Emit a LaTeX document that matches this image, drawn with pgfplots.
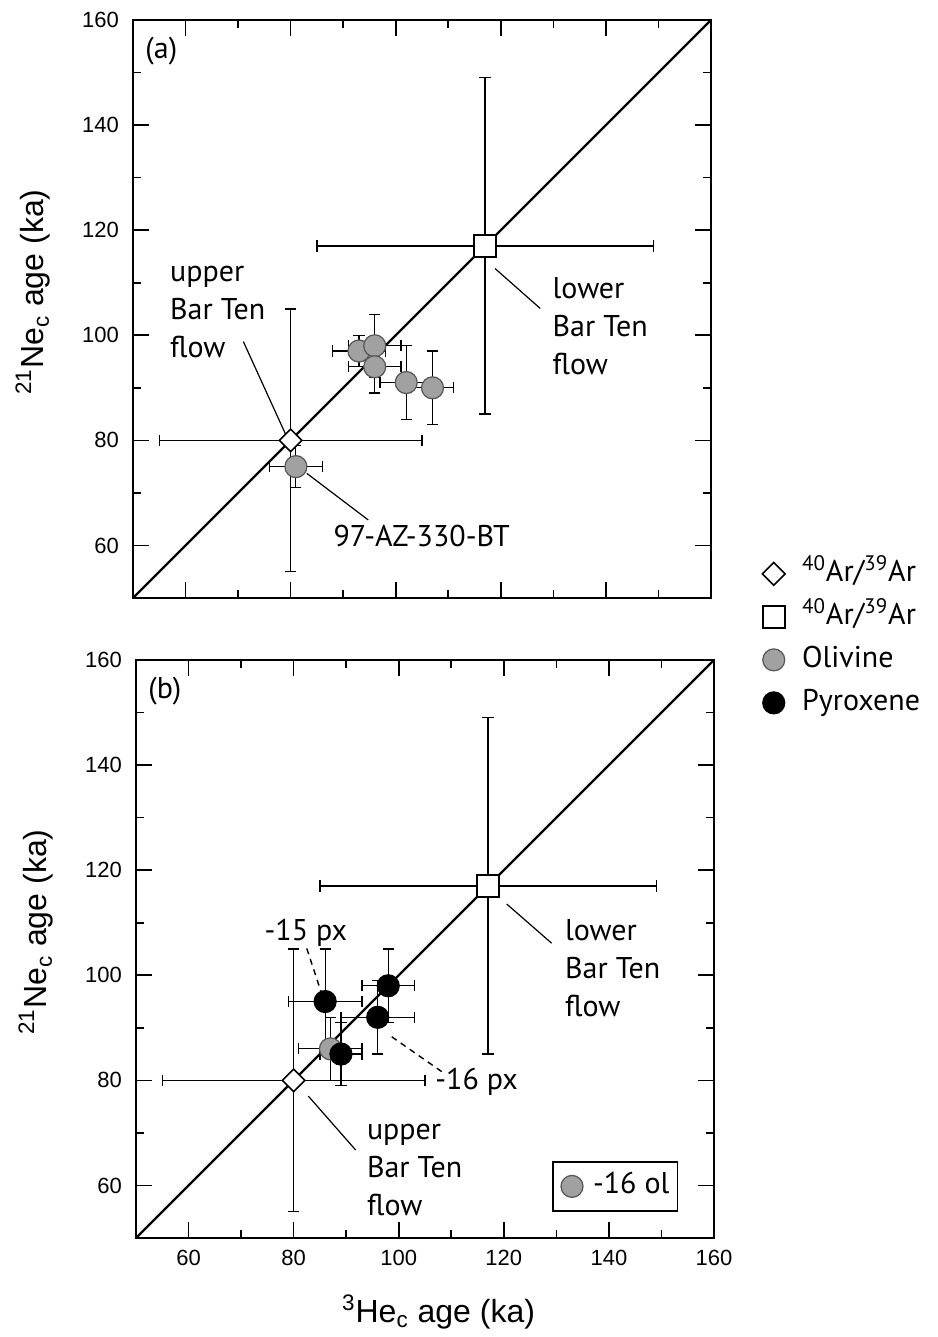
\documentclass[border=0pt]{standalone}
\usepackage{pgfplots}
\pgfplotsset{compat=1.18}
\usepackage{pgfplotstable}
\usepackage{fontspec}
\setmainfont{Liberation Sans}
\newfontfamily\annot{PT Sans}
\definecolor{olgray}{RGB}{160,161,160}
\definecolor{oledge}{RGB}{85,85,85}

\pgfplotstableread{
x y ex ey
93 97 5 3
96 98 5 6
96 94 5 5
102 91 5 7
107 90 4 7
81 75 5 4
}\olA
\pgfplotstableread{
x y ex ey
80 80 25 25
}\upperflow
\pgfplotstableread{
x y ex ey
117 117 32 32
}\lowerflow
\pgfplotstableread{
x y ex ey
87 86 6 6
}\olB
\pgfplotstableread{
x y ex ey
86 95 7 10
98 98 5 7
96 92 7 7
89 85 4 6
}\pxB

\tikzset{antext/.style={font=\annot\fontsize{15}{19}\selectfont, align=left, anchor=west, inner sep=0pt}}

\pgfplotsset{
  panel/.style={
    scale only axis, width=289pt, height=289pt,
    xmin=50, xmax=160, ymin=50, ymax=160,
    xtick={60,80,...,160}, ytick={60,80,...,160},
    minor tick num=1,
    tick align=inside, major tick length=8pt, minor tick length=4pt,
    every tick/.style={black, line width=0.8pt},
    axis line style={line width=1pt},
    /pgf/number format/assume math mode=true,
    tick label style={font=\fontsize{11}{13}\selectfont},
    yticklabel style={xshift=-3.5pt},
    xticklabel style={yshift=-2.3pt},
    label style={font=\fontsize{16}{19}\selectfont, inner sep=0pt},
    ylabel={\textsuperscript{21}Ne\textsubscript{c} age (ka)},
    ylabel style={at={(axis description cs:-0.173,0.351)}, anchor=west},
    clip=false,
  },
  errs/.style={only marks, mark=none, black, forget plot,
    error bars/.cd, x dir=both, x explicit, y dir=both, y explicit,
    error bar style={line width=0.6pt, black},
    error mark options={rotate=90, mark size=2.8pt, line width=0.6pt, black}},
  olmark/.style={only marks, mark=*, mark size=5.5pt, mark options={fill=olgray, draw=oledge, line width=0.6pt}},
  pxmark/.style={only marks, mark=*, mark size=5.5pt, mark options={fill=black, draw=black, line width=0.6pt}},
  dmmark/.style={only marks, mark=square*, mark size=4pt, mark options={fill=white, draw=black, line width=0.8pt, rotate=45}},
  sqmark/.style={only marks, mark=square*, mark size=5.5pt, mark options={fill=white, draw=black, line width=0.8pt}},
}

\begin{document}
\begin{tikzpicture}
\useasboundingbox (0,0) rectangle (468.5pt,668.5pt);

% ---------- panel (a) ----------
\begin{axis}[panel, at={(66.5pt,369.5pt)}, anchor=south west,
  xticklabels={},
  legend style={at={(axis description cs:1.0883,0.0675)}, anchor=north west,
    draw=none, fill=none, inner sep=0pt,
    font=\annot\fontsize{15}{18}\selectfont,
    nodes={inner sep=0pt, text height=11pt, text depth=3.5pt},
    row sep=7pt, column sep=8.5pt},
  legend cell align=left]
\addplot[errs] table[x=x,y=y,x error=ex,y error=ey]{\upperflow};
\addplot[errs] table[x=x,y=y,x error=ex,y error=ey]{\lowerflow};
\addplot[errs] table[x=x,y=y,x error=ex,y error=ey]{\olA};
\addplot[black, line width=1.2pt, forget plot] coordinates {(50,50) (160,160)};
\addplot[dmmark] table[x=x,y=y]{\upperflow};
\addlegendentry{\textsuperscript{40}Ar/\textsuperscript{39}Ar}
\addplot[sqmark] table[x=x,y=y]{\lowerflow};
\addlegendentry{\textsuperscript{40}Ar/\textsuperscript{39}Ar}
\addplot[olmark] table[x=x,y=y]{\olA};
\addlegendentry{Olivine}
\addlegendimage{pxmark}
\addlegendentry{Pyroxene}

\node[antext] at (axis cs:52.3,154.1) {(a)};
\node[antext] at (axis cs:57.0,104.4) {upper\\Bar Ten\\flow};
\draw[line width=0.6pt] (axis cs:71.0,98.8) -- (axis cs:79.25,80.7);
\node[antext] at (axis cs:129.8,101.8) {lower\\Bar Ten\\flow};
\draw[line width=0.6pt] (axis cs:118.9,112.7) -- (axis cs:127.5,105.1);
\node[antext] at (axis cs:88.1,61.8) {97-AZ-330-BT};
\draw[line width=0.6pt] (axis cs:83.06,73.73) -- (axis cs:94.78,64.84);
\end{axis}

% ---------- panel (b) ----------
\begin{axis}[panel, at={(68pt,49.5pt)}, anchor=south west,
  xlabel={\textsuperscript{3}He\textsubscript{c} age (ka)},
  xlabel style={at={(axis description cs:0.356,-0.128)}, anchor=west},
  legend style={at={(axis description cs:0.938,0.0455)}, anchor=south east,
    draw=black, line width=0.8pt, fill=white,
    font=\annot\fontsize{15}{18}\selectfont,
    nodes={inner sep=0pt, text height=11pt, text depth=3.5pt},
    inner xsep=4pt, inner ysep=5pt, column sep=5pt},
  legend cell align=left]
\addplot[errs] table[x=x,y=y,x error=ex,y error=ey]{\upperflow};
\addplot[errs] table[x=x,y=y,x error=ex,y error=ey]{\lowerflow};
\addplot[errs] table[x=x,y=y,x error=ex,y error=ey]{\olB};
\addplot[errs] table[x=x,y=y,x error=ex,y error=ey]{\pxB};
\addplot[black, line width=1.2pt, forget plot] coordinates {(50,50) (160,160)};
\addplot[dmmark, forget plot] table[x=x,y=y]{\upperflow};
\addplot[sqmark, forget plot] table[x=x,y=y]{\lowerflow};
\addplot[olmark] table[x=x,y=y]{\olB};
\addlegendentry{-16 ol}
\addplot[pxmark, forget plot] table[x=x,y=y]{\pxB};

\node[antext] at (axis cs:52.3,154.1) {(b)};
\node[antext] at (axis cs:74.4,108.0) {-15 px};
\draw[line width=0.7pt, dash pattern=on 3pt off 2.5pt] (axis cs:82.5,105.1) -- (axis cs:85.3,96.6);
\node[antext] at (axis cs:106.9,79.7) {-16 px};
\draw[line width=0.7pt, dash pattern=on 3pt off 2.5pt] (axis cs:98.66,88.3) -- (axis cs:108.2,81.65);
\node[antext] at (axis cs:131.6,101.4) {lower\\Bar Ten\\flow};
\draw[line width=0.6pt] (axis cs:120.55,113.56) -- (axis cs:129.1,106.1);
\node[antext] at (axis cs:93.9,62.9) {upper\\Bar Ten\\flow};
\draw[line width=0.6pt] (axis cs:82.8,77.0) -- (axis cs:91.8,66.75);
\end{axis}
\end{tikzpicture}
\end{document}
